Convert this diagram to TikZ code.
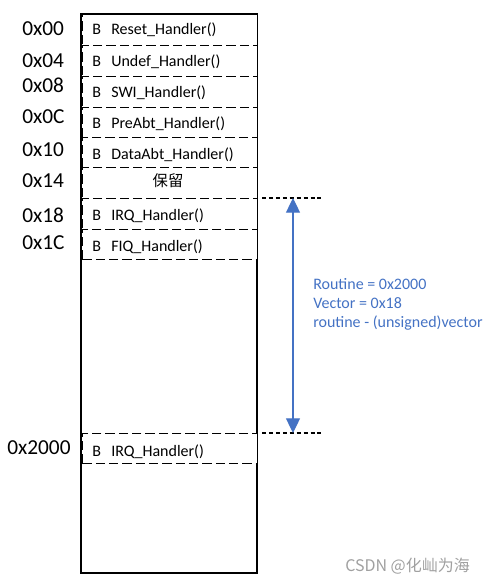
\documentclass[tikz,border=0pt]{standalone}
\usepackage{fontspec}
\setmainfont{Carlito}
\newfontfamily\cjk{Noto Sans CJK SC}
\usetikzlibrary{arrows.meta}
\definecolor{arrowblue}{HTML}{4472C4}
\definecolor{wmgray}{HTML}{A0A0A0}
\begin{document}
\begin{tikzpicture}[x=0.75pt,y=-0.75pt,
  rowbox/.style={draw,dashed,dash pattern=on 7pt off 3pt,line width=0.7pt,fill=white,minimum width=174.5*0.75pt,minimum height=#1*0.75pt,anchor=north west,inner sep=0pt},
  rowbox/.default=30.7,
  btxt/.style={anchor=base west,inner sep=0pt,font=\fontsize{12}{14}\selectfont},
  addr/.style={anchor=base west,inner sep=0pt,font=\fontsize{16}{19}\selectfont},
  bluetxt/.style={anchor=base west,inner sep=0pt,text=arrowblue,font=\fontsize{12}{14}\selectfont},
  guide/.style={line width=2pt,dash pattern=on 3pt off 2.2pt},
  span/.style={arrowblue,line width=0.9pt,{Triangle[width=10.5pt,length=11pt]}-{Triangle[width=10.5pt,length=11pt]}}
]
\useasboundingbox (0,0) rectangle (496,584);
% outer memory block
\draw[line width=1.6pt] (81,14) rectangle (257,573);
% rows
\node[rowbox] (r0) at (82,14) {};
\node[rowbox] (r1) at (82,45) {};
\node[rowbox] (r2) at (82,76) {};
\node[rowbox] (r3) at (82,107) {};
\node[rowbox=30] (r4) at (82,137) {};
\node[rowbox] (r5) at (82,167) {};
\node[rowbox] (r6) at (82,198) {};
\node[rowbox=30] (r7) at (82,229) {};
\node[rowbox=30] (r8) at (82,433) {};
% redraw outer top border
\draw[line width=1.6pt] (81,14) -- (257,14);
% row texts
\foreach \n/\t/\y in {a/Reset\_Handler()/35, b/Undef\_Handler()/67, c/SWI\_Handler()/98, d/PreAbt\_Handler()/129, e/DataAbt\_Handler()/160, g/IRQ\_Handler()/221, h/FIQ\_Handler()/252, i/IRQ\_Handler()/456}{
  \node[btxt] (B\n) at (92,\y) {B};
  \node[btxt] (T\n) at (111,\y) {\t};
}
\node[anchor=base,inner sep=0pt,font=\cjk\fontsize{11.5}{13}\selectfont] (rsv) at (168,187) {保留};
% addresses
\node[addr] (A0) at (22,36) {0x00};
\node[addr] (A1) at (22,68) {0x04};
\node[addr] (A2) at (22,93) {0x08};
\node[addr] (A3) at (22,124) {0x0C};
\node[addr] (A4) at (22,157) {0x10};
\node[addr] (A5) at (22,188) {0x14};
\node[addr] (A6) at (22,223) {0x18};
\node[addr] (A7) at (22,249) {0x1C};
\node[addr] (A8) at (7,454) {0x2000};
% guide lines
\coordinate (g1a) at (262,198);
\coordinate (g1b) at (323,198);
\coordinate (g2a) at (262,433);
\coordinate (g2b) at (323,433);
\draw[guide] (g1a) -- (g1b);
\draw[guide] (g2a) -- (g2b);
\coordinate (p1) at (293,198);
\coordinate (p2) at (293,433);
\draw[span] (p1) -- (p2);
% blue text
\node[bluetxt] (L1) at (313,289) {Routine = 0x2000};
\node[bluetxt] (L2) at (313,308) {Vector = 0x18};
\node[bluetxt] (L3) at (313,327) {routine - (unsigned)vector};
% watermark
\node[anchor=base west,inner sep=0pt,text=wmgray,font=\cjk\fontsize{12}{14}\selectfont] (wm) at (345,571) {CSDN @化屾为海};
\end{tikzpicture}
\end{document}
